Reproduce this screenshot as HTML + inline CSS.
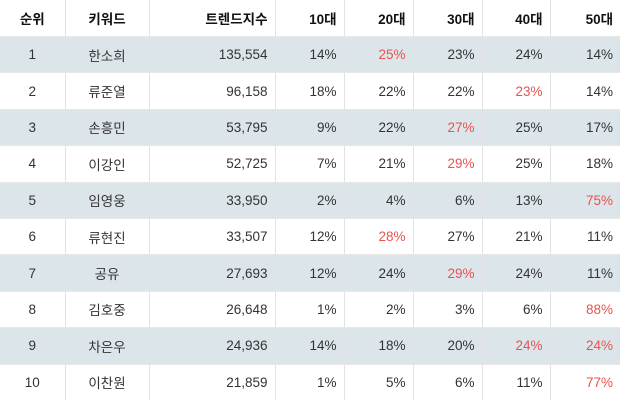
<!DOCTYPE html>
<html><head><meta charset="utf-8"><style>
body{margin:0;background:#fff;}
table{border-collapse:collapse;width:620px;height:400px;table-layout:fixed;font-family:"Liberation Sans","Noto Sans CJK KR",sans-serif;font-size:13.5px;color:#333;}
th,td{border-left:1px solid #e2e2e2;border-bottom:1px solid #e8e8e8;padding:0 7px;}
th:first-child,td:first-child{border-left:none;}
tbody tr:last-child td{border-bottom:none;}
th{height:36px;font-weight:bold;color:#111;font-size:13.5px;}
td{height:35.4px;}
tr.alt td{background:#dce5ea;}
.c{text-align:center}.r{text-align:right}
.red{color:#e8524f}
</style></head><body>
<table>
<colgroup><col style="width:65px"><col style="width:84px"><col style="width:126px"><col style="width:69px"><col style="width:69px"><col style="width:69px"><col style="width:68px"><col style="width:70px"></colgroup>
<thead><tr>
<th class="c">순위</th>
<th class="c">키워드</th>
<th class="r">트렌드지수</th>
<th class="r">10대</th>
<th class="r">20대</th>
<th class="r">30대</th>
<th class="r">40대</th>
<th class="r">50대</th>
</tr></thead>
<tbody id="tb"></tbody>
</table>
<script>
const names=["한소희","류준열","손흥민","이강인","임영웅","류현진","공유","김호중","차은우","이찬원"];
const indexes=[135554,96158,53795,52725,33950,33507,27693,26648,24936,21859];
const a10=[14,18,9,7,2,12,12,1,14,1];
const a20=[25,22,22,21,4,28,24,2,18,5];
const a30=[23,22,27,29,6,27,29,3,20,6];
const a40=[24,23,25,25,13,21,24,6,24,11];
const a50=[14,14,17,18,75,11,11,88,24,77];
const tb=document.getElementById('tb');
for(let i=0;i<names.length;i++){
  const tr=document.createElement('tr');
  
  
  if(i%2===0)tr.className='alt';
  const ages=[a10[i],a20[i],a30[i],a40[i],a50[i]];
  const mx=Math.max(...ages);
  const cells=[[String(i+1),'c','rank'],[names[i],'c','keyword'],[indexes[i].toLocaleString('en-US'),'r','trend-index']];
  ages.forEach((v,k)=>cells.push([v+'%','r'+(v===mx?' red':''),'age-'+((k+1)*10)]));
  for(const c of cells){
    const td=document.createElement('td');
    td.textContent=c[0];td.className=c[1];
    
    
    tr.appendChild(td);
  }
  tb.appendChild(tr);
}
</script>
</body></html>
